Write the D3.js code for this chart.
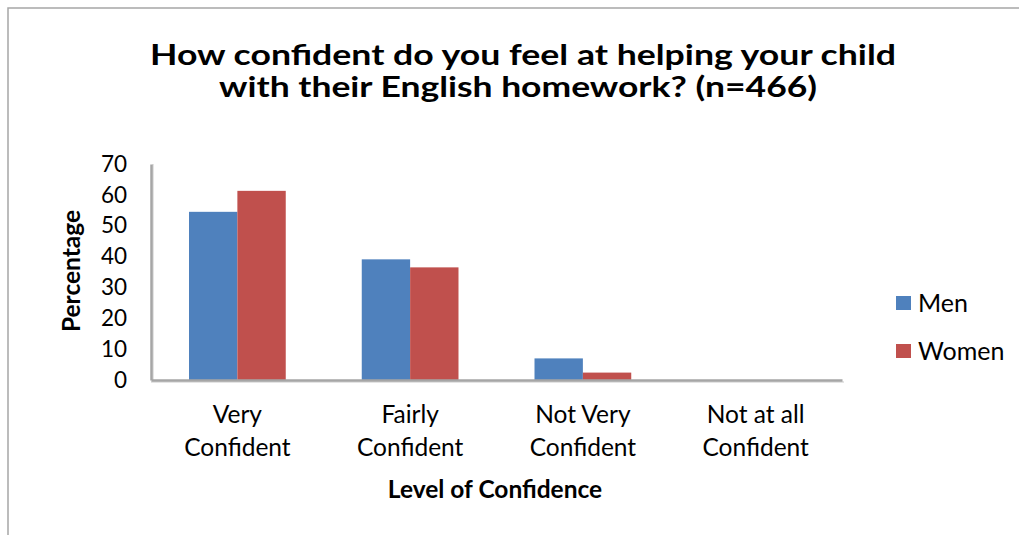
<!DOCTYPE html>
<html>
<head>
<meta charset="utf-8">
<script src="https://cdn.jsdelivr.net/npm/d3@7"></script>
<style>
  html, body { margin: 0; padding: 0; background: #fff; }
  svg { display: block; font-family: Lato, "Open Sans", sans-serif; }
</style>
</head>
<body>
<svg id="chart" width="1019" height="535"></svg>
<script>
const categories = [["Very", "Confident"], ["Fairly", "Confident"], ["Not Very", "Confident"], ["Not at all", "Confident"]];
const categoryKeys = ["Very Confident", "Fairly Confident", "Not Very Confident", "Not at all Confident"];
const seriesNames = ["Men", "Women"];
const menValues = [54.5, 39.1, 7.0, 0];
const womenValues = [61.3, 36.5, 2.4, 0];
const yTicks = [0, 10, 20, 30, 40, 50, 60, 70];
const colors = ["#4F81BD", "#C0504D"];
const titleLines = ["How confident do you feel at helping your child", "with their English homework? (n=466)"];

const svg = d3.select("#chart");
const FONT = "Lato, 'Open Sans', sans-serif";

// frame
svg.append("rect").attr("x", 8).attr("y", 8).attr("width", 1030).attr("height", 540)
  .attr("fill", "#fff").attr("stroke", "#a6a6a6").attr("stroke-width", 1.5);

const x0 = d3.scaleBand().domain(categoryKeys).range([151, 842]).paddingInner(0.44).paddingOuter(0.22);
const x1 = d3.scaleBand().domain(seriesNames).range([0, x0.bandwidth()]);
const y = d3.scaleLinear().domain([0, 70]).range([380, 164]);
const color = d3.scaleOrdinal().domain(seriesNames).range(colors);

// title
const title = svg.append("g").attr("font-weight", "bold").attr("font-size", 29).attr("fill", "#000").attr("text-anchor", "middle");
title.append("text").attr("x", 523).attr("y", 65).attr("textLength", 746).attr("lengthAdjust", "spacingAndGlyphs").text(titleLines[0]);
title.append("text").attr("x", 518).attr("y", 97).attr("textLength", 598).attr("lengthAdjust", "spacingAndGlyphs").text(titleLines[1]);

// bars
const rows = categoryKeys.map((k, i) => ({ key: k, values: [menValues[i], womenValues[i]] }));
const groups = svg.append("g").selectAll("g").data(rows).join("g")
  .attr("transform", d => `translate(${x0(d.key)},0)`);
groups.selectAll("rect").data(d => d.values.map((v, j) => ({ s: seriesNames[j], v })))
  .join("rect")
  .attr("x", d => x1(d.s)).attr("width", x1.bandwidth())
  .attr("y", d => y(d.v)).attr("height", d => y(0) - y(d.v))
  .attr("fill", d => color(d.s));

// axes lines (with light shadow)
const axisColor = "#a6a6a6";
svg.append("line").attr("x1", 153).attr("x2", 153).attr("y1", 164).attr("y2", 382).attr("stroke", "#e4e4e4").attr("stroke-width", 2);
svg.append("line").attr("x1", 151).attr("x2", 844).attr("y1", 382).attr("y2", 382).attr("stroke", "#e4e4e4").attr("stroke-width", 2);

const yAxis = svg.append("g").attr("transform", "translate(151,0)")
  .call(d3.axisLeft(y).tickValues(yTicks).tickSize(0).tickPadding(24));
yAxis.select(".domain").attr("stroke", axisColor).attr("stroke-width", 2.5);
yAxis.selectAll("text").attr("font-size", 22.5).attr("fill", "#000").attr("font-family", FONT);

const xAxis = svg.append("g").attr("transform", "translate(0,380)")
  .call(d3.axisBottom(x0).tickSize(0).tickFormat(""));
xAxis.select(".domain").attr("stroke", axisColor).attr("stroke-width", 2.5);
xAxis.selectAll(".tick text").remove();
xAxis.selectAll(".tick").each(function(d, i) {
  const t = d3.select(this).append("text").attr("fill", "#000").attr("font-size", 24.5)
    .attr("text-anchor", "middle").attr("font-family", FONT);
  categories[i].forEach((line, k) => {
    t.append("tspan").attr("x", 0).attr("y", 43 + k * 33).text(line);
  });
});

// axis titles
svg.append("text").attr("transform", "translate(80,271) rotate(-90)")
  .attr("text-anchor", "middle").attr("font-weight", "bold").attr("font-size", 24.5).text("Percentage");
svg.append("text").attr("x", 495).attr("y", 498)
  .attr("text-anchor", "middle").attr("font-weight", "bold").attr("font-size", 24.5).text("Level of Confidence");

// legend
const legend = svg.append("g").selectAll("g").data(seriesNames).join("g")
  .attr("transform", (d, i) => `translate(896,${296 + i * 48})`);
legend.append("rect").attr("width", 15).attr("height", 14).attr("fill", d => color(d));
legend.append("text").attr("x", 22).attr("y", 16).attr("font-size", 25).attr("fill", "#000").text(d => d);
</script>
</body>
</html>
